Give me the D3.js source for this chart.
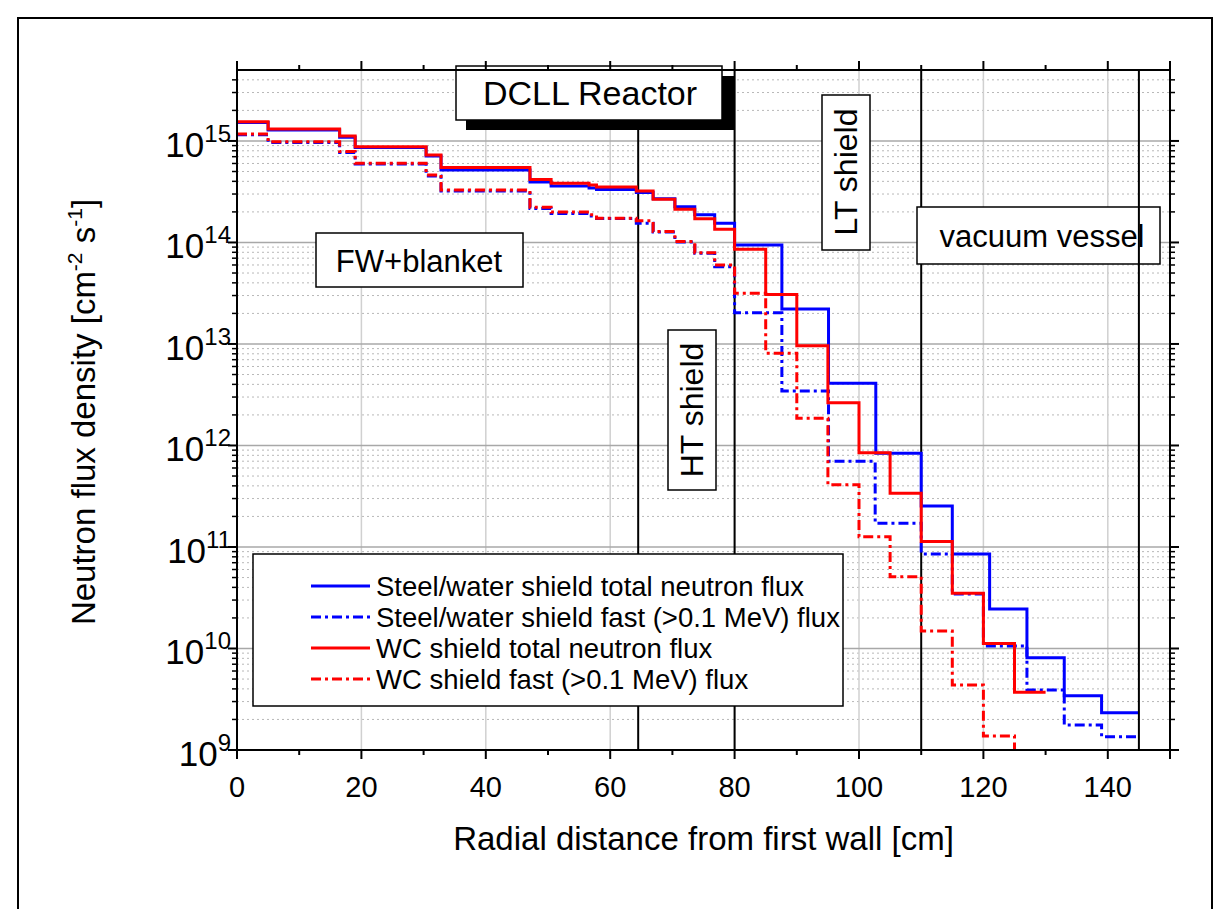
<!DOCTYPE html>
<html>
<head>
<meta charset="utf-8">
<script src="https://cdn.jsdelivr.net/npm/d3@7"></script>
<style>
	body { margin: 0; background: #fff; }
	text { font-family: "Liberation Sans", Arial, sans-serif; fill: #000; }
</style>
</head>
<body>
<script>

// bin edges shared by all four curves up to 80 cm (first wall + blanket)
var edgesBlanket = [0, 5, 16.5, 19, 30.4, 32.8, 47.1, 50.5, 56.6, 57.8, 64.2, 66.9, 70.4, 73.6, 76.8, 80];

// shield region edges, one set per curve
var edgesSteelTotal = [87.6, 95.1, 102.7, 110, 115, 121, 127, 133, 139, 145];
var edgesSteelFast = [87.6, 95.1, 102.6, 110, 115, 120, 127, 133, 139, 145];
var edgesWcTotal = [85, 90, 95, 100, 105, 110, 115, 120, 125, 130];
var edgesWcFast = [85, 90, 95, 100, 105, 110, 115, 120, 125];

// flux values [cm^-2 s^-1], one per bin (WC fast ends by dropping off the axis)
var steelTotal = [1.52e15, 1.28e15, 1.09e15, 8.63e14, 7.12e14, 5.18e14, 3.95e14, 3.60e14, 3.44e14, 3.33e14, 3.10e14, 2.69e14, 2.25e14, 1.87e14, 1.55e14,
	9.44e13, 2.21e13, 4.10e12, 8.38e11, 2.54e11, 8.53e10, 2.45e10, 8.11e9, 3.43e9, 2.33e9];
var steelFast = [1.15e15, 9.66e14, 7.71e14, 5.93e14, 4.52e14, 3.21e14, 2.16e14, 1.93e14, 1.82e14, 1.72e14, 1.55e14, 1.27e14, 1.01e14, 7.83e13, 5.78e13,
	2.03e13, 3.44e12, 6.99e11, 1.71e11, 8.53e10, 3.44e10, 1.06e10, 3.90e9, 1.76e9, 1.35e9];
var wcTotal = [1.55e15, 1.31e15, 1.12e15, 8.79e14, 7.28e14, 5.48e14, 4.18e14, 3.83e14, 3.68e14, 3.52e14, 3.21e14, 2.67e14, 2.12e14, 1.71e14, 1.35e14,
	8.57e13, 3.08e13, 9.62e12, 2.64e12, 8.49e11, 3.38e11, 1.13e11, 3.50e10, 1.12e10, 3.70e9];
var wcFast = [1.17e15, 9.84e14, 7.85e14, 6.03e14, 4.63e14, 3.29e14, 2.22e14, 1.99e14, 1.87e14, 1.73e14, 1.64e14, 1.28e14, 1.02e14, 7.94e13, 6.00e13,
	3.16e13, 8.09e12, 1.85e12, 4.11e11, 1.26e11, 5.09e10, 1.49e10, 4.37e9, 1.37e9, 1e8];

var seriesNames = ["Steel/water shield total neutron flux", "Steel/water shield fast (>0.1 MeV) flux",
	"WC shield total neutron flux", "WC shield fast (>0.1 MeV) flux"];

// region boundaries [cm]
var boundaries = [64.5, 80, 110];
var vesselEnd = 145;

var xTicks = [0, 20, 40, 60, 80, 100, 120, 140];
var yDecades = [9, 10, 11, 12, 13, 14, 15];

var W = 1229, H = 909;
var pL = 237, pR = 1170, pT = 70, pB = 750;

var svg = d3.select("body").append("svg")
	.attr("width", W)
	.attr("height", H);

var x = d3.scaleLinear().domain([0, 150]).range([pL, pR]);
var y = d3.scaleLog().domain([1e9, 5e15]).range([pB, pT]);

// outer frame
svg.append("rect")
	.attr("x", 18).attr("y", 18)
	.attr("width", 1194).attr("height", 910)
	.attr("fill", "none").attr("stroke", "#000").attr("stroke-width", 2);

var minorY = [];
for (var e = 9; e <= 15; e++) {
	for (var m = 2; m <= 9; m++) {
		var v = m * Math.pow(10, e);
		if (v < 5e15) minorY.push(v);
	}
}
var majorY = yDecades.map(function(p) { return Math.pow(10, p); });

// grid
var grid = svg.append("g");
grid.selectAll(".gminor").data(minorY).enter().append("line")
	.attr("x1", pL).attr("x2", pR)
	.attr("y1", function(d) { return y(d); }).attr("y2", function(d) { return y(d); })
	.attr("stroke", "#b8b8b8").attr("stroke-width", 1).attr("stroke-dasharray", "2,3");
grid.selectAll(".gx").data(xTicks.slice(1)).enter().append("line")
	.attr("x1", function(d) { return x(d); }).attr("x2", function(d) { return x(d); })
	.attr("y1", pT).attr("y2", pB)
	.attr("stroke", "#d0d0d0").attr("stroke-width", 1.5);
grid.selectAll(".gy").data(majorY.slice(1)).enter().append("line")
	.attr("x1", pL).attr("x2", pR)
	.attr("y1", function(d) { return y(d); }).attr("y2", function(d) { return y(d); })
	.attr("stroke", "#a8a8a8").attr("stroke-width", 1.5);

// region boundary lines
svg.selectAll(".bound").data(boundaries).enter().append("line")
	.attr("x1", function(d) { return x(d); }).attr("x2", function(d) { return x(d); })
	.attr("y1", pT).attr("y2", pB)
	.attr("stroke", "#000").attr("stroke-width", 2);

// curves
svg.append("clipPath").attr("id", "clip")
	.append("rect").attr("x", pL).attr("y", pT).attr("width", pR - pL).attr("height", pB - pT);

function stepPoints(edges, values) {
	return edges.map(function(ed, i) {
		return [ed, values[Math.min(i, values.length - 1)]];
	});
}

var series = [
	{ name: seriesNames[0], pts: stepPoints(edgesBlanket.concat(edgesSteelTotal), steelTotal), color: "#0000ff", dash: null },
	{ name: seriesNames[1], pts: stepPoints(edgesBlanket.concat(edgesSteelFast), steelFast), color: "#0000ff", dash: "10,4,3,4" },
	{ name: seriesNames[2], pts: stepPoints(edgesBlanket.concat(edgesWcTotal), wcTotal), color: "#ff0000", dash: null },
	{ name: seriesNames[3], pts: stepPoints(edgesBlanket.concat(edgesWcFast), wcFast), color: "#ff0000", dash: "10,4,3,4" }
];

var line = d3.line()
	.x(function(d) { return x(d[0]); })
	.y(function(d) { return y(d[1]); })
	.curve(d3.curveStepAfter);

svg.append("g").attr("clip-path", "url(#clip)")
	.selectAll("path").data(series).enter().append("path")
	.attr("fill", "none")
	.attr("stroke", function(d) { return d.color; })
	.attr("stroke-width", 3)
	.attr("stroke-dasharray", function(d) { return d.dash; })
	.attr("d", function(d) { return line(d.pts); });

// text boxes
function box(x0, y0, w, h) {
	svg.append("rect").attr("x", x0).attr("y", y0).attr("width", w).attr("height", h)
		.attr("fill", "#fff").attr("stroke", "#000").attr("stroke-width", 1.5);
}

// DCLL Reactor with shadow
svg.append("rect").attr("x", 466).attr("y", 76).attr("width", 268).attr("height", 54).attr("fill", "#000");
box(456, 66, 266, 54);
svg.append("text").attr("x", 590).attr("y", 105).attr("text-anchor", "middle")
	.style("font-size", "34px").text("DCLL Reactor");

box(316, 233, 207, 54);
svg.append("text").attr("x", 419).attr("y", 272).attr("text-anchor", "middle")
	.style("font-size", "31px").text("FW+blanket");

box(668, 330, 48, 160);
svg.append("text").attr("transform", "translate(703,410) rotate(-90)").attr("text-anchor", "middle")
	.style("font-size", "32px").text("HT shield");

box(822, 95, 48, 155);
svg.append("text").attr("transform", "translate(857,172) rotate(-90)").attr("text-anchor", "middle")
	.style("font-size", "32px").text("LT shield");

box(917, 207, 243, 57);
svg.append("text").attr("x", 1042).attr("y", 247).attr("text-anchor", "middle")
	.style("font-size", "31px").text("vacuum vessel");

// legend
box(253, 554, 590, 152);
var leg = svg.append("g").selectAll("g").data(series).enter().append("g")
	.attr("transform", function(d, i) { return "translate(0," + (586 + i * 31) + ")"; });
leg.append("line").attr("x1", 311).attr("x2", 370)
	.attr("stroke", function(d) { return d.color; })
	.attr("stroke-width", 3)
	.attr("stroke-dasharray", function(d) { return d.dash; });
leg.append("text").attr("x", 376).attr("dy", "0.35em")
	.style("font-size", "27.5px").text(function(d) { return d.name; });

// vessel outer boundary sits over the label box
svg.append("line")
	.attr("x1", x(vesselEnd)).attr("x2", x(vesselEnd))
	.attr("y1", pT).attr("y2", pB)
	.attr("stroke", "#000").attr("stroke-width", 2);

// axes frame
svg.append("rect").attr("x", pL).attr("y", pT).attr("width", pR - pL).attr("height", pB - pT)
	.attr("fill", "none").attr("stroke", "#000").attr("stroke-width", 2);

// x ticks (bottom and top, outward)
var xMinor = d3.range(10, 151, 20);
[[pB, 1], [pT, -1]].forEach(function(s) {
	svg.selectAll(null).data(xTicks.concat([150])).enter().append("line")
		.attr("x1", function(d) { return x(d); }).attr("x2", function(d) { return x(d); })
		.attr("y1", s[0]).attr("y2", s[0] + 9 * s[1])
		.attr("stroke", "#000").attr("stroke-width", 2);
	svg.selectAll(null).data(xMinor).enter().append("line")
		.attr("x1", function(d) { return x(d); }).attr("x2", function(d) { return x(d); })
		.attr("y1", s[0]).attr("y2", s[0] + 5 * s[1])
		.attr("stroke", "#000").attr("stroke-width", 2);
});

// y ticks (left and right, outward)
[[pL, -1], [pR, 1]].forEach(function(s) {
	svg.selectAll(null).data(majorY).enter().append("line")
		.attr("x1", s[0]).attr("x2", s[0] + 9 * s[1])
		.attr("y1", function(d) { return y(d); }).attr("y2", function(d) { return y(d); })
		.attr("stroke", "#000").attr("stroke-width", 2);
	svg.selectAll(null).data(minorY).enter().append("line")
		.attr("x1", s[0]).attr("x2", s[0] + 5 * s[1])
		.attr("y1", function(d) { return y(d); }).attr("y2", function(d) { return y(d); })
		.attr("stroke", "#000").attr("stroke-width", 1.5);
});

// tick labels
svg.selectAll(".xl").data(xTicks).enter().append("text")
	.attr("x", function(d) { return x(d); }).attr("y", 797)
	.attr("text-anchor", "middle").style("font-size", "29px")
	.text(function(d) { return d; });

var yl = svg.selectAll(".yl").data(yDecades).enter().append("text")
	.attr("x", 231).attr("y", function(d) { return y(Math.pow(10, d)) + 16; })
	.attr("text-anchor", "end").style("font-size", "35px");
yl.append("tspan").text("10");
yl.append("tspan").attr("dy", -15).style("font-size", "24px").text(function(d) { return d; });

// axis titles
svg.append("text").attr("x", (pL + pR) / 2).attr("y", 850)
	.attr("text-anchor", "middle").style("font-size", "33px")
	.text("Radial distance from first wall [cm]");

var yt = svg.append("text").attr("transform", "translate(95,412) rotate(-90)")
	.attr("text-anchor", "middle").style("font-size", "33px");
yt.append("tspan").text("Neutron flux density [cm");
yt.append("tspan").attr("dy", -13).style("font-size", "21px").text("-2");
yt.append("tspan").attr("dy", 13).text(" s");
yt.append("tspan").attr("dy", -13).style("font-size", "21px").text("-1");
yt.append("tspan").attr("dy", 13).text("]");

</script>
</body>
</html>
